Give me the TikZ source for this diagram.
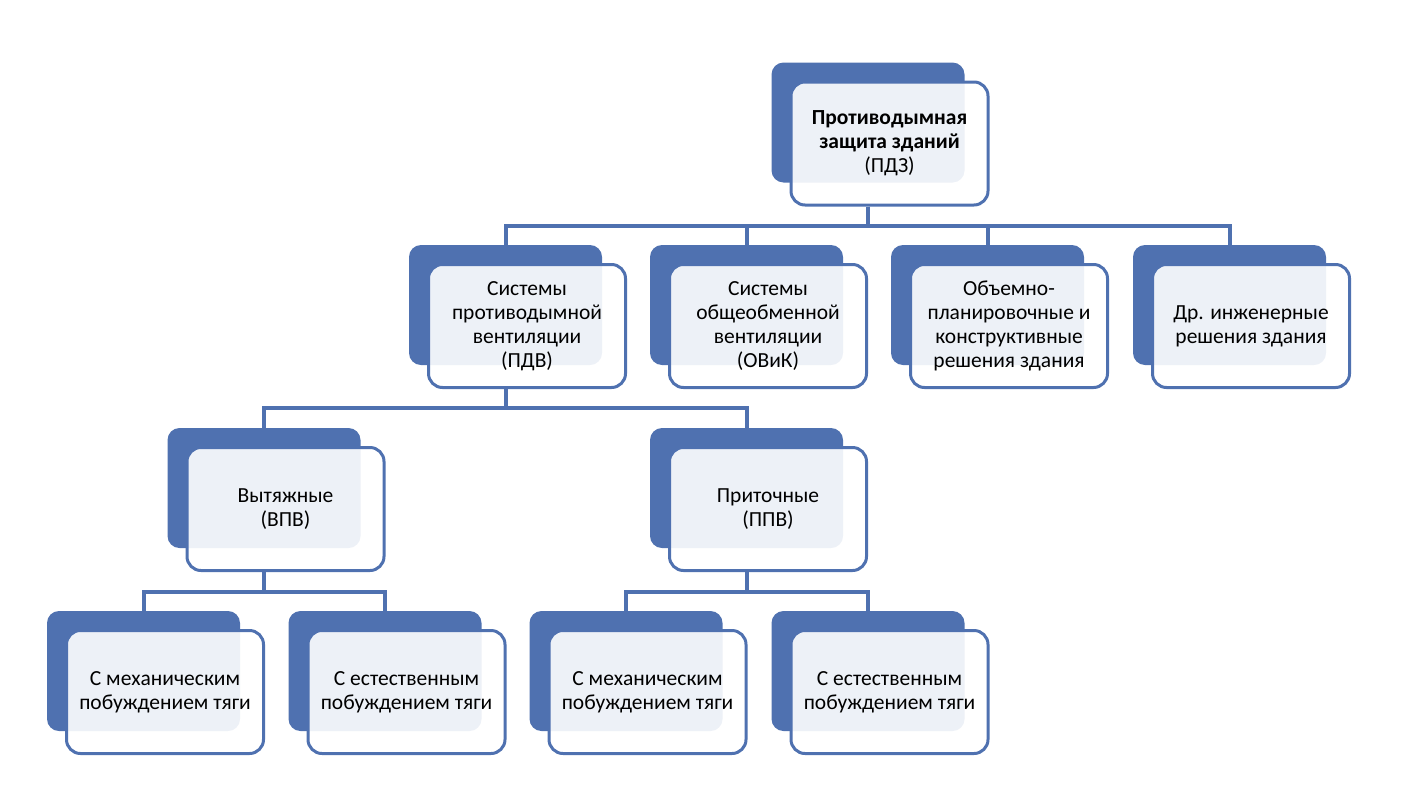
\documentclass[tikz,border=0pt]{standalone}
\usepackage{fontspec}
\setmainfont{Carlito}
\usetikzlibrary{calc}
\definecolor{smblue}{RGB}{79,113,176}
\tikzstyle{back} = [rectangle, rounded corners=12pt, fill=smblue, minimum width=193pt, minimum height=120pt, inner sep=0pt]
\tikzstyle{front} = [rectangle, rounded corners=14pt, draw=smblue, line width=3pt, fill=white, fill opacity=0.9, text opacity=1, minimum width=197pt, minimum height=123pt, inner sep=0pt, align=center, font=\fontsize{21.5}{24}\selectfont]
\tikzstyle{link} = [draw=smblue, line width=4pt]

\begin{document}
\begin{tikzpicture}[x=1pt, y=-1pt]
\useasboundingbox (0,0) rectangle (1426,806);

%top
\node (pdzb) [back] at (868,122.5) {};
\node (pdz) [front] at ($(pdzb)+(21.5,21)$) {\textbf{Противодымная}\\\textbf{защита зданий}\\(ПДЗ)};

%second row
\node (pdvb) [back] at (505.5,305) {};
\node (pdv) [front] at ($(pdvb)+(21.5,21)$) {Системы\\противодымной\\вентиляции\\(ПДВ)};
\node (ovikb) [back] at (746.5,305) {};
\node (ovik) [front] at ($(ovikb)+(21.5,21)$) {Системы\\общеобменной\\вентиляции\\(ОВиК)};
\node (oprb) [back] at (987.5,305) {};
\node (opr) [front] at ($(oprb)+(21.5,21)$) {Объемно-\\планировочные и\\конструктивные\\решения здания};
\node (drb) [back] at (1229.5,305) {};
\node (dr) [front] at ($(drb)+(21.5,21)$) {Др. инженерные\\решения здания};

%third row
\node (vpvb) [back] at (264,488) {};
\node (vpv) [front] at ($(vpvb)+(21.5,21)$) {Вытяжные\\(ВПВ)};
\node (ppvb) [back] at (746.5,488) {};
\node (ppv) [front] at ($(ppvb)+(21.5,21)$) {Приточные\\(ППВ)};

%fourth row
\node (vmexb) [back] at (143.5,671) {};
\node (vmex) [front] at ($(vmexb)+(21.5,21)$) {С механическим\\побуждением тяги};
\node (vestb) [back] at (385,671) {};
\node (vest) [front] at ($(vestb)+(21.5,21)$) {С естественным\\побуждением тяги};
\node (pmexb) [back] at (626,671) {};
\node (pmex) [front] at ($(pmexb)+(21.5,21)$) {С механическим\\побуждением тяги};
\node (pestb) [back] at (868,671) {};
\node (pest) [front] at ($(pestb)+(21.5,21)$) {С естественным\\побуждением тяги};

%connectors
\foreach \c in {pdvb,ovikb,oprb,drb}
  \draw [link] (pdzb.center |- pdz.south) -- ($(pdzb.center |- \c.north)+(0,-19)$) -| (\c.north);
\foreach \c in {vpvb,ppvb}
  \draw [link] (pdvb.center |- pdv.south) -- ($(pdvb.center |- \c.north)+(0,-20)$) -| (\c.north);
\foreach \c in {vmexb,vestb}
  \draw [link] (vpvb.center |- vpv.south) -- ($(vpvb.center |- \c.north)+(0,-19)$) -| (\c.north);
\foreach \c in {pmexb,pestb}
  \draw [link] (ppvb.center |- ppv.south) -- ($(ppvb.center |- \c.north)+(0,-19)$) -| (\c.north);

\end{tikzpicture}
\end{document}
